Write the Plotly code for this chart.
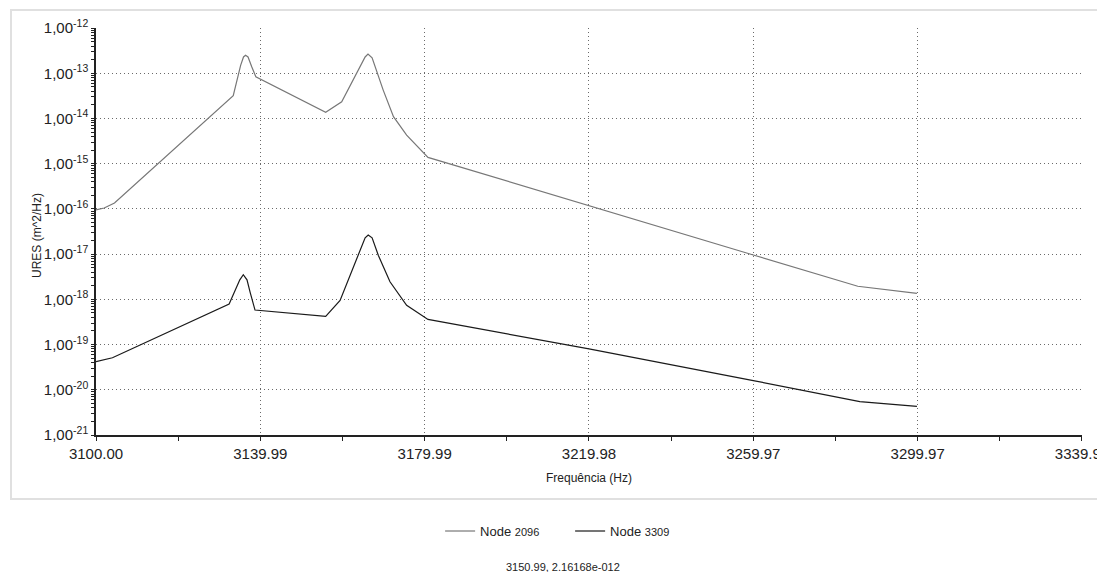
import plotly.graph_objects as go

# Node 2096 (upper curve)
freq_2096 = [3100.0, 3102.0, 3104.5, 3132.4, 3133.4, 3135.2, 3135.9, 3136.4, 3137.0, 3137.9, 3138.9,
             3155.9, 3159.8, 3165.5, 3166.2, 3167.2, 3169.9, 3172.4, 3175.6, 3180.8,
             3219.98, 3259.97, 3285.4, 3299.8]
ures_2096 = [9.5e-17, 1.05e-16, 1.35e-16, 2.57e-14, 3.2e-14, 1.5e-13, 2.3e-13, 2.5e-13, 2.3e-13, 1.4e-13, 8.4e-14,
             1.38e-14, 2.35e-14, 2.3e-13, 2.65e-13, 2.2e-13, 4.25e-14, 1.1e-14, 4.3e-15, 1.38e-15,
             1.16e-16, 9.6e-18, 1.95e-18, 1.35e-18]

# Node 3309 (lower curve)
freq_3309 = [3100.0, 3104.0, 3132.4, 3133.8, 3135.0, 3135.85, 3136.75, 3137.5, 3138.7,
             3155.9, 3159.4, 3165.5, 3166.25, 3167.2, 3168.7, 3171.55, 3175.6, 3180.8,
             3219.98, 3259.97, 3285.9, 3299.8]
ures_3309 = [4.2e-20, 5.1e-20, 7.9e-19, 1.48e-18, 2.7e-18, 3.5e-18, 2.7e-18, 1.45e-18, 5.8e-19,
             4.2e-19, 9.5e-19, 2.3e-17, 2.65e-17, 2.3e-17, 9.5e-18, 2.45e-18, 7.4e-19, 3.6e-19,
             8.0e-20, 1.6e-20, 5.5e-21, 4.3e-21]

x_ticks = [3100.00, 3139.99, 3179.99, 3219.98, 3259.97, 3299.97, 3339.96]
x_ticklabels = ["3100.00", "3139.99", "3179.99", "3219.98", "3259.97", "3299.97", "3339.96"]
x_minor = [3119.995, 3159.99, 3199.985, 3239.975, 3279.97, 3319.965]
y_exps = [-12, -13, -14, -15, -16, -17, -18, -19, -20, -21]
y_ticks = [10.0 ** e for e in y_exps]
y_ticklabels = [f"1,00<sup>{e}</sup>" for e in y_exps]

FONT = "Liberation Sans, Arial, sans-serif"
GRID = dict(showgrid=True, gridcolor="#6a6a6a", griddash="1px,3px", gridwidth=1)

fig = go.Figure()
fig.add_trace(go.Scatter(x=freq_2096, y=ures_2096, mode="lines",
                         name="Node <span style='font-size:11px'>2096</span>",
                         line=dict(color="#777777", width=1.2)))
fig.add_trace(go.Scatter(x=freq_3309, y=ures_3309, mode="lines",
                         name="Node <span style='font-size:11px'>3309</span>",
                         line=dict(color="#1a1a1a", width=1.2)))

fig.update_xaxes(
    range=[3100.0, 3339.97], tickmode="array", tickvals=x_ticks, ticktext=x_ticklabels,
    showline=True, linecolor="#222", linewidth=1.5,
    ticks="outside", ticklen=4, tickcolor="#222",
    zeroline=False, automargin=False, ticklabeloverflow="allow",
    tickfont=dict(family=FONT, size=15, color="#222"),
    title=dict(text="Frequência (Hz)", font=dict(family=FONT, size=12, color="#222"), standoff=13),
    minor=dict(tickmode="array", tickvals=x_minor, ticks="outside", ticklen=4, tickcolor="#222", showgrid=False),
    **GRID,
)
fig.update_yaxes(
    type="log", range=[-21, -11.998], tickmode="array", tickvals=y_ticks, ticktext=y_ticklabels,
    showline=True, linecolor="#222", linewidth=1.5,
    ticks="outside", ticklen=3, tickcolor="#222",
    zeroline=False, automargin=False, ticklabeloverflow="allow",
    tickfont=dict(family=FONT, size=15, color="#222"),
    minor=dict(dtick="D1", ticks="outside", ticklen=3, tickcolor="#222", showgrid=False),
    **GRID,
)

fig.add_shape(type="rect", xref="paper", yref="paper", x0=-0.0862, x1=1.06, y0=-0.157, y1=1.0442,
              line=dict(color="#e0e0e0", width=2), fillcolor="rgba(0,0,0,0)", layer="below")

fig.add_annotation(text="URES (m^2/Hz)", xref="paper", yref="paper", x=-0.0598, y=0.489,
                   textangle=-90, xanchor="center", yanchor="middle", showarrow=False,
                   font=dict(family=FONT, size=12, color="#222"))

fig.add_annotation(text="3150.99, 2.16168e-012", xref="paper", yref="paper", x=0.474, y=-0.324,
                   yanchor="middle", showarrow=False, font=dict(family=FONT, size=11, color="#222"))

fig.update_layout(
    width=1097, height=564,
    margin=dict(l=88, r=23, t=20, b=137),
    paper_bgcolor="white", plot_bgcolor="white",
    font=dict(family=FONT, color="#222"),
    showlegend=True,
    legend=dict(orientation="h", x=0.349, xanchor="left", y=-0.236, yanchor="middle",
                entrywidth=85, entrywidthmode="pixels",
                font=dict(family=FONT, size=13, color="#222")),
)

fig.write_html("out.html")
